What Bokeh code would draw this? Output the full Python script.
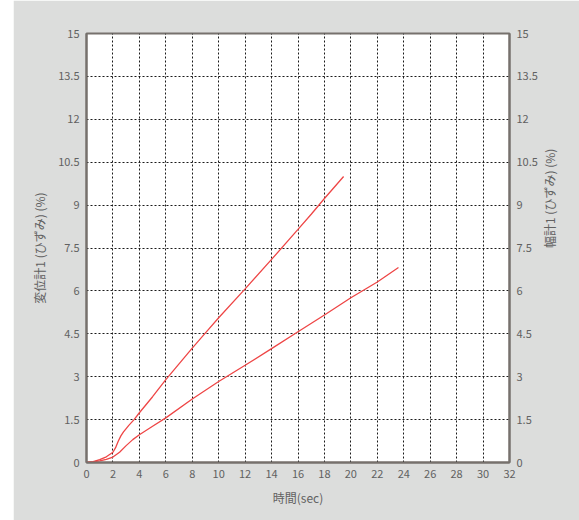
import math
from bokeh.plotting import figure
from bokeh.models import FixedTicker, LinearAxis, Range1d, Spacer
from bokeh.layouts import row
from bokeh.embed import file_html
from bokeh.resources import INLINE

# 変位計1 (displacement gauge) strain over time
disp_t = [0, 0.5, 1, 1.5, 2, 2.2, 2.4, 2.6, 2.8, 3.2, 3.6, 4, 5, 6, 7, 8, 9, 10, 12, 14, 16, 17, 18, 19.45]
disp_v = [0, 0.03, 0.1, 0.2, 0.36, 0.52, 0.74, 0.93, 1.07, 1.3, 1.5, 1.74, 2.3, 2.9, 3.45, 4.0, 4.53, 5.06, 6.07, 7.1, 8.15, 8.68, 9.23, 10.0]

# 幅計1 (width gauge) strain over time
width_t = [0, 0.5, 1, 1.5, 2, 2.5, 3, 3.5, 4, 5, 6, 8, 10, 12, 14, 16, 18, 20, 22, 23.6]
width_v = [0, 0.02, 0.06, 0.11, 0.19, 0.36, 0.59, 0.8, 0.97, 1.27, 1.56, 2.22, 2.83, 3.4, 3.98, 4.57, 5.16, 5.76, 6.31, 6.82]

x_ticks = list(range(0, 33, 2))
y_ticks = [0, 1.5, 3, 4.5, 6, 7.5, 9, 10.5, 12, 13.5, 15]
y_tick_labels = ["0", "1.5", "3", "4.5", "6", "7.5", "9", "10.5", "12", "13.5", "15"]

FONT = "Noto Sans CJK JP"
BG = "#dcdddc"
AXIS_COLOR = "#76716d"
TEXT_COLOR = "#616161"
LINE_COLOR = "#ee4646"

p = figure(
    width=566, height=520,
    x_range=Range1d(0, 32), y_range=Range1d(0, 15),
    output_backend="svg", toolbar_location=None,
    min_border_left=73, min_border_right=70,
    min_border_top=33, min_border_bottom=58,
)
p.background_fill_color = "white"
p.border_fill_color = BG
p.outline_line_color = AXIS_COLOR
p.outline_line_width = 2

y_labels = {v: s for v, s in zip(y_ticks, y_tick_labels)}

right_axis = LinearAxis()
p.add_layout(right_axis, "right")

for ax in [p.xaxis[0], p.yaxis[0], right_axis]:
    ax.axis_line_color = AXIS_COLOR
    ax.axis_line_width = 2
    ax.major_tick_in = 0
    ax.major_tick_out = 0
    ax.minor_tick_in = 0
    ax.minor_tick_out = 0
    ax.major_label_text_font = FONT
    ax.major_label_text_font_size = "11px"
    ax.major_label_text_color = TEXT_COLOR
    ax.major_label_standoff = 7
    ax.axis_label_text_font = FONT
    ax.axis_label_text_font_size = "12px"
    ax.axis_label_text_font_style = "normal"
    ax.axis_label_text_color = TEXT_COLOR
    ax.axis_label_standoff = 7

p.xaxis[0].ticker = FixedTicker(ticks=x_ticks)
p.xaxis[0].axis_label = "時間(sec)"
p.xaxis[0].axis_label_standoff = 8

for ax in [p.yaxis[0], right_axis]:
    ax.ticker = FixedTicker(ticks=y_ticks)
    ax.major_label_overrides = y_labels

p.yaxis[0].axis_label = "変位計1 (ひずみ) (%)"
right_axis.axis_label = "幅計1 (ひずみ) (%)"
right_axis.axis_label_orientation = math.pi / 2
right_axis.axis_label_standoff = 9

p.xgrid.ticker = FixedTicker(ticks=x_ticks)
p.ygrid.ticker = FixedTicker(ticks=y_ticks)
for g in [p.xgrid[0], p.ygrid[0]]:
    g.grid_line_color = "#1a1a1a"
    g.grid_line_dash = "2 2"
    g.grid_line_width = 1

p.line(disp_t, disp_v, line_color=LINE_COLOR, line_width=1.3)
p.line(width_t, width_v, line_color=LINE_COLOR, line_width=1.3)

layout = row(Spacer(width=13, height=520), p)

open("out.html", "w").write(file_html(layout, INLINE))
